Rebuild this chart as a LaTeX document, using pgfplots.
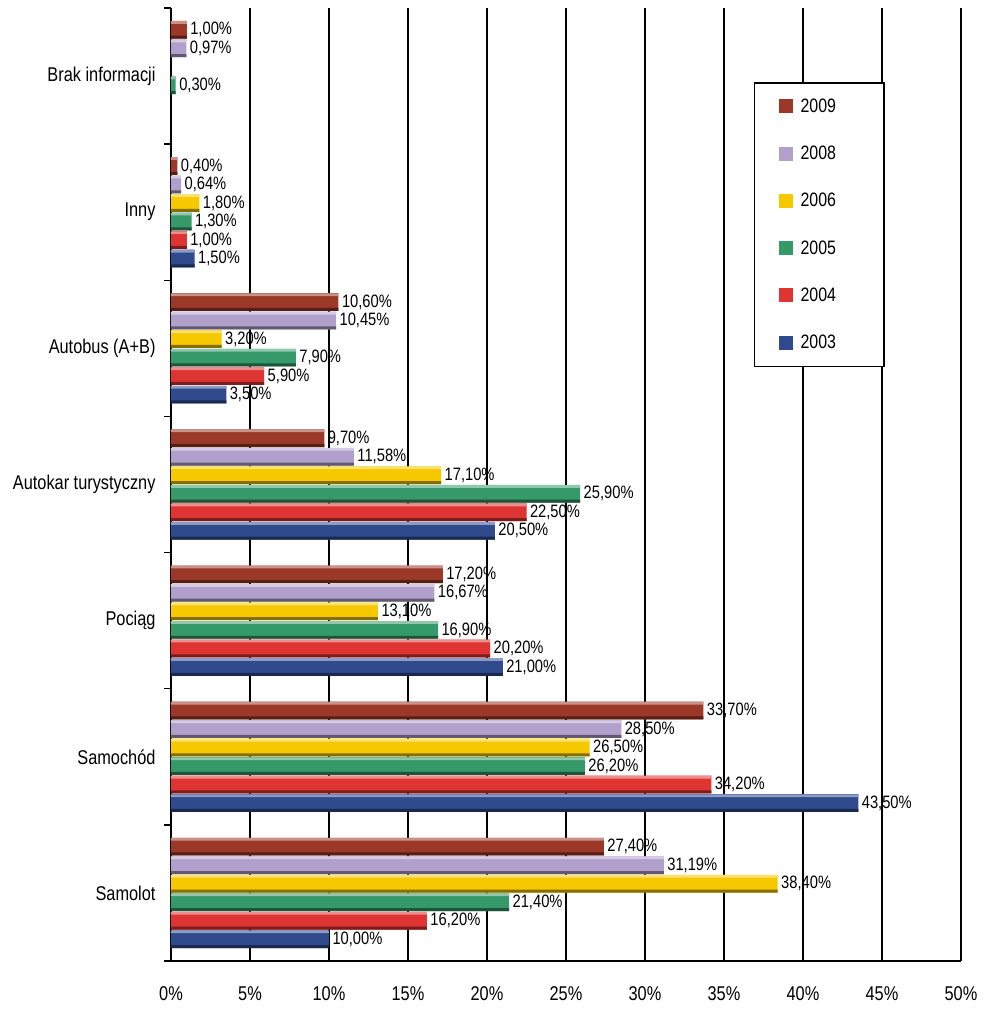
\documentclass[border=0pt]{standalone}
\usepackage{fontspec}
\setmainfont{Liberation Sans}[FakeStretch=0.82]
\usepackage{pgfplots}
\pgfplotsset{compat=1.18}
\definecolor{c2009}{HTML}{9C3828}
\definecolor{c2008}{HTML}{B2A0CC}
\definecolor{c2006}{HTML}{F5C800}
\definecolor{c2005}{HTML}{35996A}
\definecolor{c2004}{HTML}{DE3432}
\definecolor{c2003}{HTML}{304A8E}
\pgfplotsset{vals/.style={nodes near coords={\pgfmathprintnumber[assume math mode=true,fixed,fixed zerofill,precision=2,use comma]{\pgfplotspointmeta}\%},
  every node near coord/.append style={font=\fontsize{18}{20}\selectfont, text=black}}}
% #1 colour, #2 main shift, #3 top-strip shift, #4 bottom-strip shift, #5 coords, #6 year
\newcommand\series[6]{%
  \addplot[fill=#1, draw=none, bar shift=#2, vals] coordinates {#5};
  \addlegendentry{\kern6bp #6\kern22bp}
  \addplot[fill=#1!55!white, draw=none, bar shift=#3, bar width=0.02, forget plot] coordinates {#5};
  \addplot[fill=#1!55!black, draw=none, bar shift=#4, bar width=0.022, forget plot] coordinates {#5};
}
\begin{document}
\begin{tikzpicture}
\begin{axis}[
  scale only axis, width=790bp, height=953bp,
  xbar, bar width=0.13,
  legend image code/.code={\fill[#1] (0bp,-7bp) rectangle (14bp,7bp);},
  xmin=0, xmax=50, ymin=-0.5, ymax=6.5,
  axis x line*=bottom, axis y line*=left,
  axis line style={black, line width=1.4bp, -},
  xtick={0,5,...,50},
  xticklabel={\pgfmathprintnumber[assume math mode=true,fixed,precision=0]{\tick}\%},
  x tick label style={font=\fontsize{20}{22}\selectfont, yshift=-22bp},
  ytick={0,...,6},
  yticklabels={Samolot,Samochód,Pociąg,Autokar turystyczny,Autobus (A+B),Inny,Brak informacji},
  y tick label style={font=\fontsize{20}{22}\selectfont, xshift=-12bp},
  major tick length=0pt,
  extra y ticks={-0.5,0.5,1.5,2.5,3.5,4.5,5.5,6.5},
  extra y tick labels={},
  extra y tick style={major tick length=7bp, tick align=outside, tick style={black, line width=1.4bp}},
  xmajorgrids, major grid style={black, line width=1.6bp},
  legend style={at={(0.738,0.922)}, anchor=north west, draw=black, line width=1.2bp,
    font=\fontsize{19.5}{22}\selectfont, row sep=28.2bp, inner xsep=24bp, inner ysep=14bp},
  legend cell align=left,
  reverse legend,
]
\series{c2003}{-0.34}{-0.286}{-0.394}{(10,0) (43.5,1) (21,2) (20.5,3) (3.5,4) (1.5,5)}{2003}
\series{c2004}{-0.204}{-0.15}{-0.258}{(16.2,0) (34.2,1) (20.2,2) (22.5,3) (5.9,4) (1.0,5)}{2004}
\series{c2005}{-0.068}{-0.014}{-0.122}{(21.4,0) (26.2,1) (16.9,2) (25.9,3) (7.9,4) (1.3,5) (0.3,6)}{2005}
\series{c2006}{0.068}{0.122}{0.014}{(38.4,0) (26.5,1) (13.1,2) (17.1,3) (3.2,4) (1.8,5)}{2006}
\series{c2008}{0.204}{0.258}{0.15}{(31.19,0) (28.5,1) (16.67,2) (11.58,3) (10.45,4) (0.64,5) (0.97,6)}{2008}
\series{c2009}{0.34}{0.394}{0.286}{(27.4,0) (33.7,1) (17.2,2) (9.7,3) (10.6,4) (0.4,5) (1.0,6)}{2009}
\end{axis}
\path (current axis.south west) ++(-171bp,-56bp) rectangle ++(989bp,1017bp);
\end{tikzpicture}
\end{document}
